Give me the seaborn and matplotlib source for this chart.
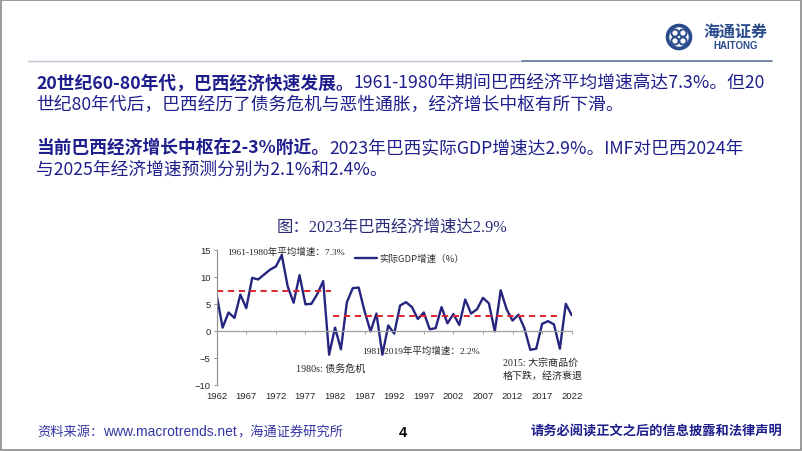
import numpy as np
import pandas as pd
import matplotlib
matplotlib.use("Agg")
import matplotlib.pyplot as plt
import seaborn as sns
from matplotlib.patches import Rectangle, Circle
from matplotlib.lines import Line2D

sns.set_theme(style="white")
plt.rcParams['font.family'] = ['Noto Sans CJK SC', 'DejaVu Sans']

# Brazil real GDP growth (%), 1962-2022
years = list(range(1962, 2023))
gdp_growth = [6.6, 0.6, 3.4, 2.4, 6.7, 4.2, 9.8, 9.5, 10.4, 11.3,
              11.9, 14.0, 8.2, 5.2, 10.3, 4.9, 5.0, 6.8, 9.2, -4.4,
              0.6, -3.4, 5.3, 7.9, 8.0, 3.6, -0.1, 3.2, -4.4, 1.0,
              -0.5, 4.7, 5.3, 4.4, 2.2, 3.4, 0.3, 0.5, 4.4, 1.4,
              3.1, 1.1, 5.8, 3.2, 4.0, 6.1, 5.1, -0.1, 7.5, 4.0,
              1.9, 3.0, 0.5, -3.5, -3.3, 1.3, 1.8, 1.2, -3.3, 5.0,
              2.9]
series_label = '实际GDP增速（%）'

# period averages (dashed lines) as drawn on the chart
period_start = [1962, 1981.6]
period_end = [1981.3, 2019.6]
period_avg = [7.3, 2.7]

xtick_years = list(range(1962, 2023, 5))
ytick_vals = [-10, -5, 0, 5, 10, 15]

NAVY = '#1E1E8C'
LINE = '#25257F'
RED = '#E0232B'

df = pd.DataFrame({'year': years, 'growth': gdp_growth})

fig = plt.figure(figsize=(8.02, 4.52), dpi=100)

# background layer in pixel coordinates
bg = fig.add_axes([0, 0, 1, 1])
bg.set_xlim(0, 802)
bg.set_ylim(452, 0)
bg.axis('off')

bg.add_patch(Rectangle((0.8, 0.8), 800.4, 450.4, fill=False, edgecolor='#8a8a8a', lw=1.2))
bg.add_line(Line2D([28, 522], [61.5, 61.5], color='#bcc6d2', lw=1.0))
bg.add_line(Line2D([522, 772], [61.5, 61.5], color='#5d7391', lw=1.2))

# logo
bg.add_patch(Circle((679, 38), 11.5, fill=False, edgecolor='#2B4C8C', lw=2.6))
for dx, dy in [(-4, -4), (4, -4), (-4, 4), (4, 4)]:
    bg.add_patch(Circle((679 + dx, 38 + dy), 3.6, fill=False, edgecolor='#2B4C8C', lw=1.4))
bg.text(735, 32, '海通证券', fontsize=11.5, fontweight='bold', color='#2B4C8C', ha='center', va='center')
bg.text(736, 46, 'HAITONG', fontsize=7, fontweight='bold', color='#2B4C8C', ha='center', va='center',
        family=['Liberation Sans', 'DejaVu Sans'])

renderer = fig.canvas.get_renderer()


def rich_line(x, y, parts, size=12.75):
    for txt, bold in parts:
        t = bg.text(x, y, txt, fontsize=size, fontweight='bold' if bold else 'medium',
                    color=NAVY, ha='left', va='center')
        x += t.get_window_extent(renderer=renderer).width


rich_line(36, 83, [('20世纪60-80年代，巴西经济快速发展。', True),
                   ('1961-1980年期间巴西经济平均增速高达7.3%。但20', False)])
rich_line(36, 105, [('世纪80年代后，巴西经历了债务危机与恶性通胀，经济增长中枢有所下滑。', False)])
rich_line(36, 148, [('当前巴西经济增长中枢在2-3%附近。', True),
                    ('2023年巴西实际GDP增速达2.9%。IMF对巴西2024年', False)])
rich_line(36, 170, [('与2025年经济增速预测分别为2.1%和2.4%。', False)])

bg.text(392, 228, '图：2023年巴西经济增速达2.9%', fontsize=11.8, color='#2B2B7A',
        ha='center', va='center', family=['Liberation Serif', 'Noto Sans CJK SC'])

# footer
rich_x = 37
t = bg.text(rich_x, 432, '资料来源：', fontsize=9.5, color='#3535A5', ha='left', va='center')
rich_x += t.get_window_extent(renderer=renderer).width
t = bg.text(rich_x, 432, 'www.macrotrends.net', fontsize=10, color='#3535A5', ha='left', va='center',
            family=['Liberation Sans', 'DejaVu Sans'])
rich_x += t.get_window_extent(renderer=renderer).width
bg.text(rich_x, 432, '，海通证券研究所', fontsize=9.5, color='#3535A5', ha='left', va='center')
bg.text(403, 433, '4', fontsize=10.5, fontweight='bold', color='black', ha='center', va='center',
        family=['Liberation Sans', 'DejaVu Sans'])
bg.text(782, 432, '请务必阅读正文之后的信息披露和法律声明', fontsize=9.5, fontweight='bold',
        color=NAVY, ha='right', va='center')

# chart
ax = fig.add_axes([216.7 / 802, 1 - 386 / 452, 355 / 802, 135.3 / 452])
ax.patch.set_alpha(0)
sns.lineplot(data=df, x='year', y='growth', ax=ax, color=LINE, lw=1.7, label=series_label)
ax.hlines(period_avg, period_start, period_end, colors=RED, linestyles=(0, (3.2, 2.4)), lw=1.4)

ax.set_xlim(1962, 2022)
ax.set_ylim(-10, 15)
ax.set_xlabel('')
ax.set_ylabel('')
ax.set_yticks(ytick_vals)
ax.set_xticks(xtick_years)

for s in ['top', 'right']:
    ax.spines[s].set_visible(False)
ax.spines['left'].set_color('#8c8c8c')
ax.spines['left'].set_linewidth(0.8)
ax.spines['bottom'].set_position(('data', 0))
ax.spines['bottom'].set_color('#a0a0a0')
ax.spines['bottom'].set_linewidth(0.9)

ax.tick_params(axis='y', left=True, length=2.5, width=0.7, color='#8c8c8c', pad=2, labelsize=6.8)
ax.tick_params(axis='x', bottom=True, length=2.2, width=0.7, color='#a0a0a0', labelbottom=False)
for lab in ax.get_yticklabels():
    lab.set_family(['Liberation Sans', 'DejaVu Sans'])

sec = ax.secondary_xaxis('bottom')
sec.set_xticks(xtick_years)
sec.tick_params(length=0, pad=4.5, labelsize=6.8)
sec.spines['bottom'].set_visible(False)
for lab in sec.get_xticklabels():
    lab.set_family(['Liberation Sans', 'DejaVu Sans'])

ax.legend(loc='upper left', bbox_to_anchor=(0.39, 0.97), frameon=False, borderaxespad=0,
          borderpad=0, handlelength=2.3, handletextpad=0.3, fontsize=6.8, labelcolor='#333333')

anno_font = ['Liberation Serif', 'Noto Sans CJK SC']
ax.text(1963.7, 14.8, '1961-1980年平均增速：7.3%', fontsize=6.8, va='center', ha='left', family=anno_font)
ax.text(1986.5, -3.5, '1981-2019年平均增速：2.2%', fontsize=6.8, va='center', ha='left', family=anno_font)
ax.text(1975.4, -6.85, '1980s: 债务危机', fontsize=7.2, va='center', ha='left', family=anno_font)
ax.text(2010.4, -7.0, '2015: 大宗商品价\n格下跌，经济衰退', fontsize=7.2, va='center', ha='left',
        family=anno_font, linespacing=1.45)

fig.savefig('out.png', dpi=100)
